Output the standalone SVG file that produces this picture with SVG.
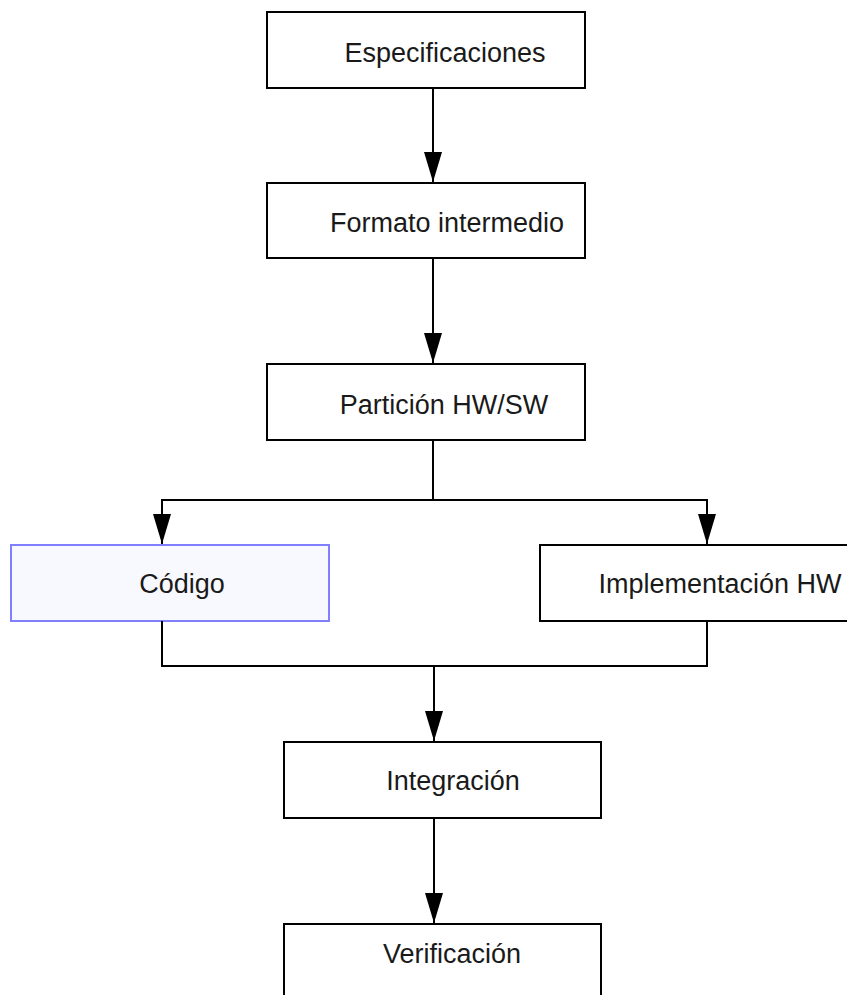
<svg xmlns="http://www.w3.org/2000/svg" width="847" height="995" viewBox="0 0 847 995">
<style>
.box{fill:#ffffff;stroke:#000000;stroke-width:2}
.sel{fill:#f8f8ff;stroke:#8080ff;stroke-width:2}
.lbl{font-family:"Liberation Sans",Arial,sans-serif;font-size:27px;fill:#1a1a1a;text-anchor:middle}
.c{fill:none;stroke:#000000;stroke-width:2}
</style>
<defs>
<marker id="ah" markerUnits="userSpaceOnUse" markerWidth="31" markerHeight="18" refX="30" refY="9" orient="auto" viewBox="0 0 31 18">
<path d="M0,0 L30,9 L0,18 Z" fill="#000000"/>
</marker>
</defs>
<rect width="847" height="995" fill="#ffffff"/>
<g id="n1"><rect class="box" x="267" y="12" width="318" height="76"/><text class="lbl" x="445" y="62">Especificaciones</text></g>
<g id="n2"><rect class="box" x="267" y="183" width="318" height="75"/><text class="lbl" x="447" y="232">Formato intermedio</text></g>
<g id="n3"><rect class="box" x="267" y="364" width="318" height="76"/><text class="lbl" x="444" y="414">Partición HW/SW</text></g>
<g id="n4"><rect class="sel" x="11" y="545" width="318" height="76"/><text class="lbl" x="182" y="593">Código</text></g>
<g id="n5"><rect class="box" x="540" y="545" width="318" height="76"/><text class="lbl" x="720" y="593">Implementación HW</text></g>
<g id="n6"><rect class="box" x="284" y="742" width="317" height="76"/><text class="lbl" x="453" y="790">Integración</text></g>
<g id="n7"><rect class="box" x="284" y="924" width="317" height="90"/><text class="lbl" x="452" y="963">Verificación</text></g>
<g id="connectors">
<path class="c" d="M433,88 V182" marker-end="url(#ah)"/>
<path class="c" d="M433,258 V363" marker-end="url(#ah)"/>
<path class="c" d="M433,440 V500 H162 V544" marker-end="url(#ah)"/>
<path class="c" d="M433,500 H707 V544" marker-end="url(#ah)"/>
<path class="c" d="M162,621 V666 H707 V621"/>
<path class="c" d="M434,666 V741" marker-end="url(#ah)"/>
<path class="c" d="M434,818 V923" marker-end="url(#ah)"/>
</g>
</svg>
